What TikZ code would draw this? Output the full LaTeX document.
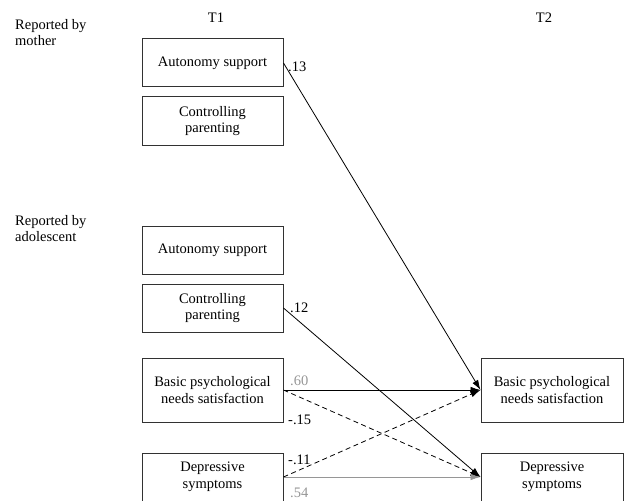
\documentclass[tikz,border=0pt]{standalone}
\usepackage{fontspec}
\setmainfont{Liberation Serif}
\usetikzlibrary{arrows.meta}
\definecolor{lab}{RGB}{150,150,150}
\definecolor{edge}{RGB}{50,50,50}
\begin{document}
\begin{tikzpicture}[x=1pt,y=-1pt,
  every node/.style={font=\fontsize{14.5}{16.7}\selectfont, inner sep=0pt},
  box/.style={draw=edge, line width=1pt, minimum width=141pt, minimum height=48pt, align=center},
  tallbox/.style={box, minimum height=64pt},
  arr/.style={line width=0.8pt, -{Latex[length=10pt,width=6.5pt]}},
  dsh/.style={arr, dash pattern=on 5pt off 3.5pt},
  grayarr/.style={arr, draw=lab, -{Latex[length=10pt,width=6.5pt,color=lab]}},
  coef/.style={anchor=west},
  side/.style={anchor=north west, align=left}]
\useasboundingbox (0,0) rectangle (628,500);
\node[side] (rm) at (15,19) {Reported by\\mother};
\node[side] (ra) at (15,215) {Reported by\\adolescent};
\node (t1) at (216,18) {T1};
\node (t2) at (544,18) {T2};
\node[box] (mAS) at (212.5,63) {Autonomy support};
\node[box] (mCP) at (212.5,121) {Controlling\\parenting};
\node[box] (aAS) at (212.5,250) {Autonomy support};
\node[box] (aCP) at (212.5,308) {Controlling\\parenting};
\node[tallbox] (aBP) at (212.5,390) {Basic psychological\\needs satisfaction};
\node[box] (aDS) at (212.5,477) {Depressive\\symptoms};
\node[tallbox, minimum width=142pt] (rBP) at (552,390) {Basic psychological\\needs satisfaction};
\node[box, minimum width=142pt] (rDS) at (552,477) {Depressive\\symptoms};
\draw[arr] (mAS.east) -- (rBP.west);
\draw[arr] (aCP.east) -- (rDS.west);
\draw[arr] (aBP.east) -- (rBP.west);
\draw[dsh] (aBP.east) -- (rDS.west);
\draw[dsh] (aDS.east) -- (rBP.west);
\draw[grayarr] (aDS.east) -- (rDS.west);
\node[coef] (c13) at (288,67) {.13};
\node[coef] (c12) at (290,308) {.12};
\node[coef, text=lab] (c60) at (290,381) {.60};
\node[coef] (c15) at (288,420) {-.15};
\node[coef] (c11) at (288,460) {-.11};
\node[coef, text=lab] (c54) at (290,493) {.54};
\end{tikzpicture}
\end{document}
